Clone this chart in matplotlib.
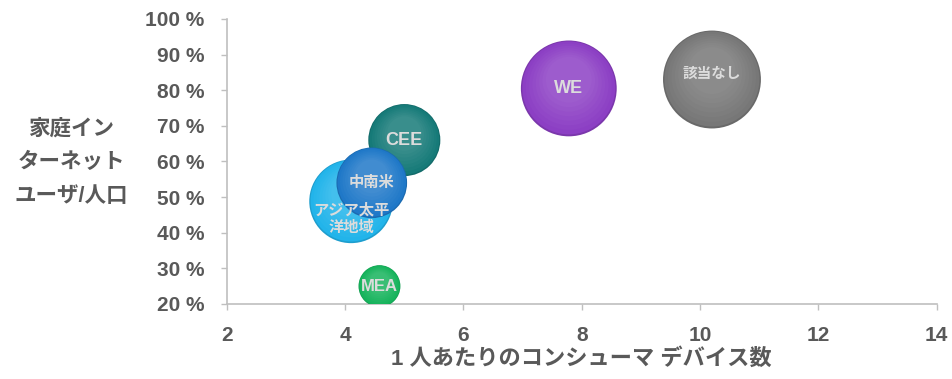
import numpy as np
import matplotlib.pyplot as plt
from matplotlib import transforms
from matplotlib.colors import to_rgb

plt.rcParams['font.family'] = ['Liberation Sans', 'Noto Sans CJK JP']
plt.rcParams['font.weight'] = 'bold'

# 地域ごとのデータ
regions = ['CEE', 'アジア太平\n洋地域', '中南米', 'MEA', 'WE', '該当なし']
devices = [5.0, 4.1, 4.45, 4.58, 7.78, 10.2]
internet = [66.0, 48.8, 54.0, 25.0, 80.5, 83.0]
volume = [13.0, 17.5, 12.5, 4.4, 23.0, 24.0]

colors = ['#167a78', '#22b4ea', '#1f78c8', '#16b35c', '#8c3fc4', '#777777']
label_dy = [0, -5, 0, 0, 0, 1.5]
label_size = [13, 11, 11, 12, 13, 10.5]

fig = plt.figure(figsize=(9.53, 3.79), dpi=100)
ax = fig.add_axes([0.238, 0.198, 0.745, 0.752])

def lighten(c, f):
    r, g, b = to_rgb(c)
    return (r + (1 - r) * f, g + (1 - g) * f, b + (1 - b) * f)

def darken(c, f):
    r, g, b = to_rgb(c)
    return (r * (1 - f), g * (1 - f), b * (1 - f))

for i in range(len(regions)):
    s = volume[i] * 207
    # 本体（下側を少し暗く）
    ax.scatter(devices[i], internet[i], s=s, color=darken(colors[i], 0.12),
               edgecolors='none', zorder=2 + i)
    # 上側のハイライト
    r_pt = np.sqrt(s) / 2
    for k, f in enumerate(np.linspace(0.0, 0.15, 8)):
        scale = 0.97 - k * 0.07
        off = transforms.ScaledTranslation(0, r_pt * (1 - scale) * 0.35 / 72,
                                           fig.dpi_scale_trans)
        ax.scatter(devices[i], internet[i], s=s * scale ** 2,
                   color=lighten(colors[i], f), edgecolors='none',
                   transform=ax.transData + off, zorder=2 + i)
    ax.text(devices[i], internet[i] + label_dy[i], regions[i], ha='center',
            va='center', fontsize=label_size[i], color='#dcdcdc',
            fontweight='bold', linespacing=1.25, zorder=20)

ax.set_xlim(2, 14)
ax.set_ylim(20, 100)
ax.set_xticks(np.arange(2, 15, 2))
ax.set_yticks(np.arange(20, 101, 10))
ax.set_yticklabels([f'{v} %' for v in range(20, 101, 10)])

for side in ['top', 'right']:
    ax.spines[side].set_visible(False)
for side in ['left', 'bottom']:
    ax.spines[side].set_color('#bfbfbf')
    ax.spines[side].set_linewidth(1.2)
ax.tick_params(colors='#bfbfbf', labelcolor='#595959', length=4, width=1,
               labelsize=15)
ax.tick_params(axis='x', pad=12)
ax.tick_params(axis='y', pad=12)
for lab in ax.get_xticklabels() + ax.get_yticklabels():
    lab.set_fontweight('bold')

ax.set_xlabel('1 人あたりのコンシューマ デバイス数', fontsize=16,
              color='#595959', fontweight='bold', labelpad=2)
fig.text(0.075, 0.57, '家庭イン\nターネット\nユーザ/人口', ha='center', va='center',
         fontsize=15.5, color='#595959', fontweight='bold', linespacing=1.8)

fig.savefig('out.png', dpi=100)
